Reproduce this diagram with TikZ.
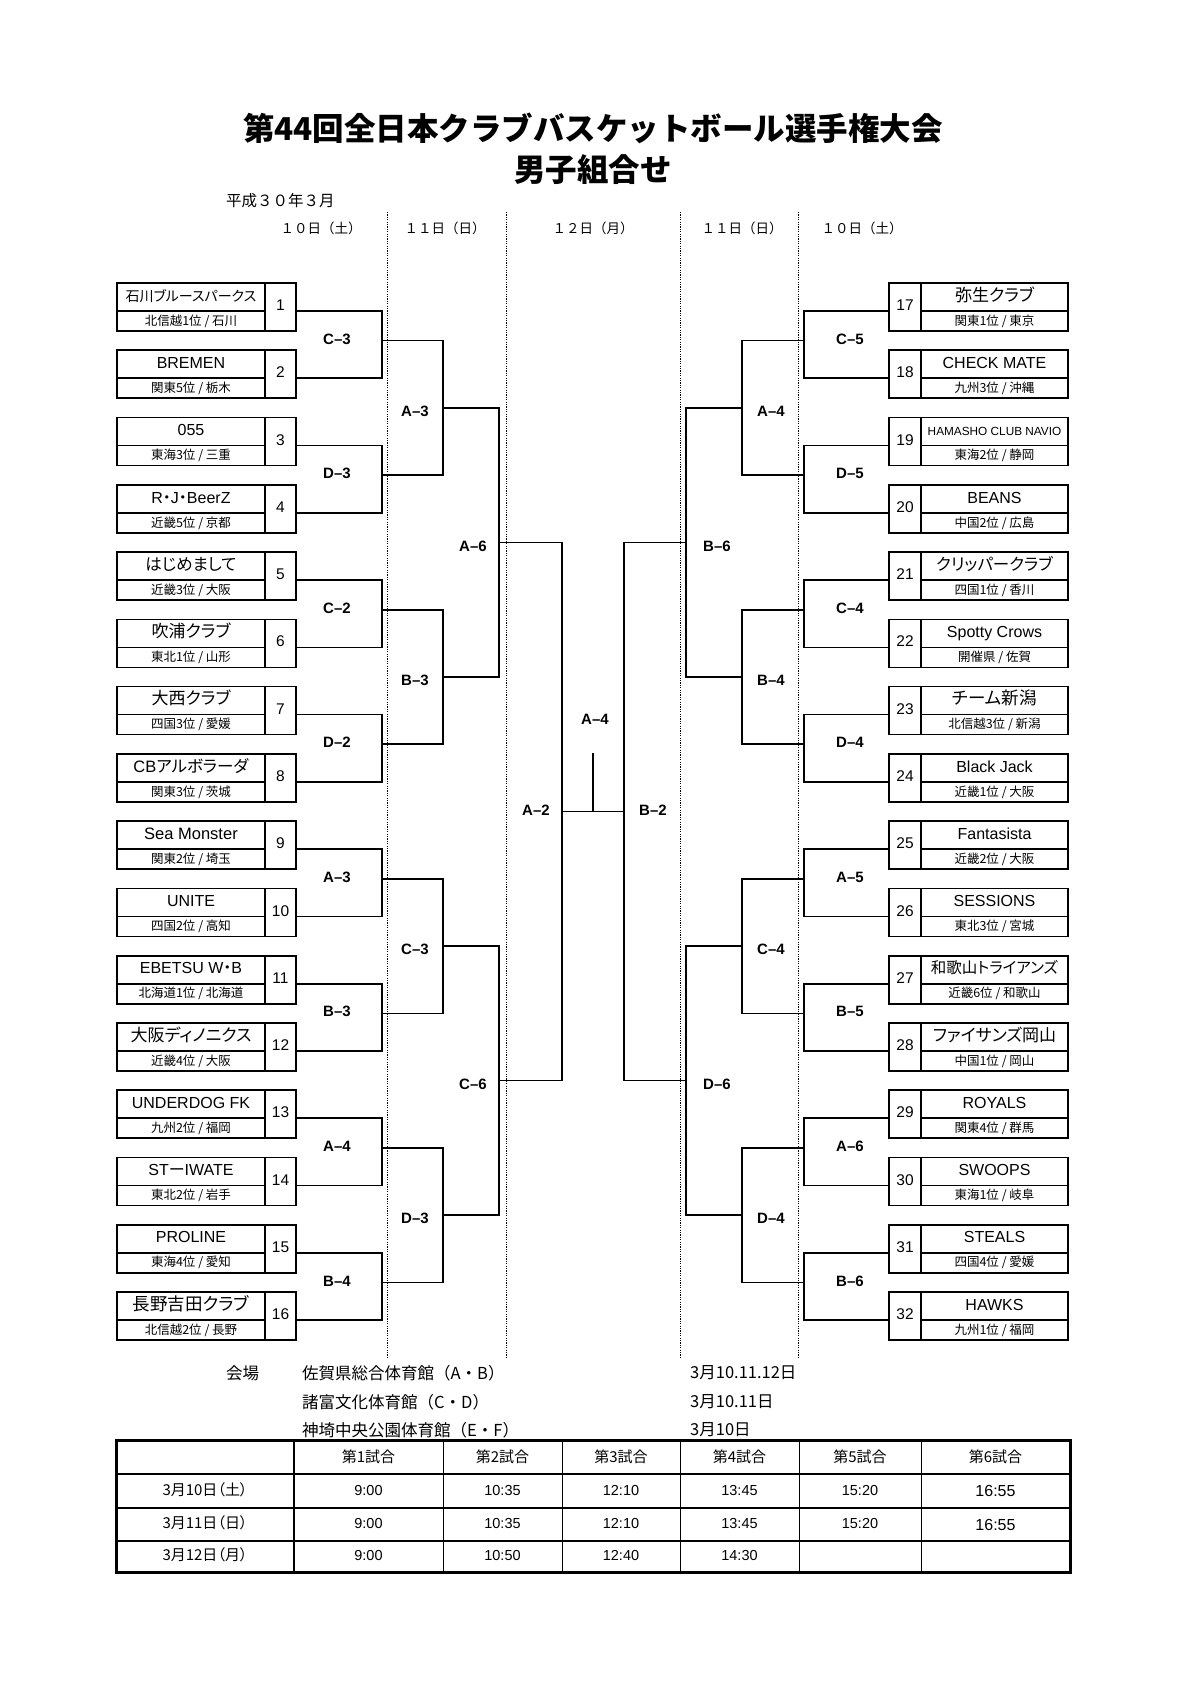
\documentclass[tikz,border=0pt]{standalone}
\usepackage{fontspec}
\setmainfont{Liberation Sans}
\newfontfamily\jp[RawFeature=+palt]{Noto Sans CJK JP}
\newfontfamily\jpf{Noto Sans CJK JP}
\newcommand\fs[1]{\fontsize{#1}{#1}\selectfont}
\tikzset{
  x=1pt, y=-1pt,
  bline/.style={line width=1.6pt, line join=miter},
  boxframe/.style={draw, line width=1.6pt, minimum width=179pt, minimum height=48pt, anchor=north west, inner sep=0pt, outer sep=0pt},
  boxline/.style={line width=1.6pt},
  dotline/.style={line width=0.9pt, dash pattern=on 1.2pt off 1.2pt},
  mlabel/.style={font=\fs{15}\bfseries, anchor=west, inner sep=0pt, text height=0.72em, text depth=0pt},
  numtxt/.style={font=\fs{15.5}, inner sep=0pt, text height=0.72em, text depth=0pt},
  subtxt/.style={font=\jp\fs{12.5}, inner sep=0pt, text height=0.74em, text depth=0pt},
  nametxt/.style={inner sep=0pt, text height=0.74em, text depth=0pt},
  hdr/.style={font=\jpf\fs{13.5}, inner sep=0pt},
  tcell/.style={font=\jp\fs{15}, inner sep=0pt, text height=0.74em, text depth=0pt},
  ttime/.style={font=\fs{14.5}, inner sep=0pt, text height=0.72em, text depth=0pt},
  venue/.style={font=\jpf\fs{16.5}, inner sep=0pt, anchor=west},
  venuedate/.style={font=\jp\fs{16.5}, inner sep=0pt, anchor=west},
}
% #1 index, #2 number, #3 font, #4 name, #5 sub
\newcommand\teamL[5]{%
  \pgfmathsetmacro\tT{283+67.27*#1}%
  \node[boxframe] (boxL#2) at (117,\tT) {};
  \draw[boxline] (265,\tT) -- (265,{\tT+48});
  \draw[boxline] (117,{\tT+28}) -- (265,{\tT+28});
  \node[nametxt, font=#3] (nameL#2) at (191,{\tT+14.5}) {#4};
  \node[subtxt] (subL#2) at (191,{\tT+38.5}) {#5};
  \node[numtxt] (numL#2) at (280.5,{\tT+24}) {#2};
  \coordinate (c#2) at (296,{\tT+28});
}
\newcommand\teamR[5]{%
  \pgfmathsetmacro\tT{283+67.27*#1}%
  \node[boxframe] (boxR#2) at (889,\tT) {};
  \draw[boxline] (921,\tT) -- (921,{\tT+48});
  \draw[boxline] (921,{\tT+28}) -- (1068,{\tT+28});
  \node[nametxt, font=#3] (nameR#2) at (994.5,{\tT+14.5}) {#4};
  \node[subtxt] (subR#2) at (994.5,{\tT+38.5}) {#5};
  \node[numtxt] (numR#2) at (905,{\tT+24}) {#2};
  \coordinate (c#2) at (889,{\tT+28});
}
\begin{document}
\begin{tikzpicture}
\useasboundingbox[fill=white] (0,0) rectangle (1190,1684);

% title
\node[font=\jpf\bfseries\fs{31.5}, inner sep=0pt] (title1) at (593,128) {第44回全日本クラブバスケットボール選手権大会};
\node[font=\jpf\bfseries\fs{31.5}, inner sep=0pt] (title2) at (593,170) {男子組合せ};
\node[font=\jpf\fs{15.5}, inner sep=0pt, anchor=west] (year) at (226,201) {平成３０年３月};

% day headers
\node[hdr] (h1) at (321,228) {１０日（土）};
\node[hdr] (h2) at (445,228) {１１日（日）};
\node[hdr] (h3) at (593,228) {１２日（月）};
\node[hdr] (h4) at (742,228) {１１日（日）};
\node[hdr] (h5) at (862,228) {１０日（土）};

% dotted day separators
\foreach \dx [count=\di] in {387,506,680,798} {
  \coordinate (dt\di) at (\dx,212);
  \coordinate (db\di) at (\dx,1357);
  \draw[dotline] (dt\di) -- (db\di);
}

% teams left
\teamL{0}{1}{\jp\fs{14}}{石川ブルースパークス}{北信越1位 / 石川}
\teamL{1}{2}{\fs{16}}{BREMEN}{関東5位 / 栃木}
\teamL{2}{3}{\fs{16}}{055}{東海3位 / 三重}
\teamL{3}{4}{\fs{16}}{R{\jp ・}J{\jp ・}BeerZ}{近畿5位 / 京都}
\teamL{4}{5}{\jp\fs{16.5}}{はじめまして}{近畿3位 / 大阪}
\teamL{5}{6}{\jp\fs{17}}{吹浦クラブ}{東北1位 / 山形}
\teamL{6}{7}{\jp\fs{17}}{大西クラブ}{四国3位 / 愛媛}
\teamL{7}{8}{\fs{16.5}}{CB{\jp アルボラーダ}}{関東3位 / 茨城}
\teamL{8}{9}{\fs{16.5}}{Sea Monster}{関東2位 / 埼玉}
\teamL{9}{10}{\fs{16}}{UNITE}{四国2位 / 高知}
\teamL{10}{11}{\fs{16}}{EBETSU W{\jp ・}B}{北海道1位 / 北海道}
\teamL{11}{12}{\jp\fs{17}}{大阪ディノニクス}{近畿4位 / 大阪}
\teamL{12}{13}{\fs{16}}{UNDERDOG FK}{九州2位 / 福岡}
\teamL{13}{14}{\fs{16}}{ST{\jp ー}IWATE}{東北2位 / 岩手}
\teamL{14}{15}{\fs{16}}{PROLINE}{東海4位 / 愛知}
\teamL{15}{16}{\jp\fs{17.5}}{長野吉田クラブ}{北信越2位 / 長野}

% teams right
\teamR{0}{17}{\jp\fs{17}}{弥生クラブ}{関東1位 / 東京}
\teamR{1}{18}{\fs{16}}{CHECK MATE}{九州3位 / 沖縄}
\teamR{2}{19}{\fs{11.8}}{HAMASHO CLUB NAVIO}{東海2位 / 静岡}
\teamR{3}{20}{\fs{16}}{BEANS}{中国2位 / 広島}
\teamR{4}{21}{\jp\fs{16.5}}{クリッパークラブ}{四国1位 / 香川}
\teamR{5}{22}{\fs{16}}{Spotty Crows}{開催県 / 佐賀}
\teamR{6}{23}{\jp\fs{17.5}}{チーム新潟}{北信越3位 / 新潟}
\teamR{7}{24}{\fs{16}}{Black Jack}{近畿1位 / 大阪}
\teamR{8}{25}{\fs{16}}{Fantasista}{近畿2位 / 大阪}
\teamR{9}{26}{\fs{16}}{SESSIONS}{東北3位 / 宮城}
\teamR{10}{27}{\jp\fs{15.5}}{和歌山トライアンズ}{近畿6位 / 和歌山}
\teamR{11}{28}{\jp\fs{17}}{ファイサンズ岡山}{中国1位 / 岡山}
\teamR{12}{29}{\fs{16}}{ROYALS}{関東4位 / 群馬}
\teamR{13}{30}{\fs{16}}{SWOOPS}{東海1位 / 岐阜}
\teamR{14}{31}{\fs{16}}{STEALS}{四国4位 / 愛媛}
\teamR{15}{32}{\fs{16}}{HAWKS}{九州1位 / 福岡}

% ---------- bracket ----------
\foreach \p [evaluate=\p as \a using int(2*\p+1), evaluate=\p as \b using int(2*\p+2), evaluate=\p as \h using 340.635+134.54*\p] in {0,...,7} {
  \coordinate (hL\p) at (382,\h);
  \draw[bline] (c\a) -- (c\a -| hL\p) -- (c\b -| hL\p) -- (c\b);
}
\foreach \p [evaluate=\p as \a using int(2*\p+17), evaluate=\p as \b using int(2*\p+18), evaluate=\p as \h using 340.635+134.54*\p] in {0,...,7} {
  \coordinate (hR\p) at (804,\h);
  \draw[bline] (c\a) -- (c\a -| hR\p) -- (c\b -| hR\p) -- (c\b);
}
\foreach \q [evaluate=\q as \a using int(2*\q), evaluate=\q as \b using int(2*\q+1), evaluate=\q as \g using 407.905+269.08*\q] in {0,...,3} {
  \coordinate (gL\q) at (443,\g);
  \coordinate (gR\q) at (742,\g);
  \draw[bline] (hL\a) -- (hL\a -| gL\q) -- (hL\b -| gL\q) -- (hL\b);
  \draw[bline] (hR\a) -- (hR\a -| gR\q) -- (hR\b -| gR\q) -- (hR\b);
}
\foreach \o [evaluate=\o as \a using int(2*\o), evaluate=\o as \b using int(2*\o+1), evaluate=\o as \f using 542.445+538.16*\o] in {0,1} {
  \coordinate (fL\o) at (499,\f);
  \coordinate (fR\o) at (686,\f);
  \draw[bline] (gL\a) -- (gL\a -| fL\o) -- (gL\b -| fL\o) -- (gL\b);
  \draw[bline] (gR\a) -- (gR\a -| fR\o) -- (gR\b -| fR\o) -- (gR\b);
}
\coordinate (eL) at (562,811.525);
\coordinate (eR) at (624,811.525);
\draw[bline] (fL0) -- (fL0 -| eL) -- (fL1 -| eL) -- (fL1);
\draw[bline] (fR0) -- (fR0 -| eR) -- (fR1 -| eR) -- (fR1);
\draw[bline] (eL) -- (eR);
\coordinate (stem) at (593,753);
\draw[bline] (stem) -- (stem |- eL);

% ---------- match labels ----------
\foreach \t [count=\i from 0, evaluate=\i as \h using 340.635+134.54*\i] in {C–3,D–3,C–2,D–2,A–3,B–3,A–4,B–4}
  \node[mlabel] (l1L\i) at (323,\h) {\t};
\foreach \t [count=\i from 0, evaluate=\i as \h using 340.635+134.54*\i] in {C–5,D–5,C–4,D–4,A–5,B–5,A–6,B–6}
  \node[mlabel] (l1R\i) at (836,\h) {\t};
\foreach \t [count=\i from 0, evaluate=\i as \g using 412.905+269.08*\i] in {A–3,B–3,C–3,D–3}
  \node[mlabel] (l2L\i) at (401,\g) {\t};
\foreach \t [count=\i from 0, evaluate=\i as \g using 412.905+269.08*\i] in {A–4,B–4,C–4,D–4}
  \node[mlabel] (l2R\i) at (757,\g) {\t};
\node[mlabel] (l3L0) at (459,547.4) {A–6};
\node[mlabel] (l3L1) at (459,1085.6) {C–6};
\node[mlabel] (l3R0) at (703,547.4) {B–6};
\node[mlabel] (l3R1) at (703,1085.6) {D–6};
\node[mlabel] (lA4) at (581,721) {A–4};
\node[mlabel] (lA2) at (522,811.5) {A–2};
\node[mlabel] (lB2) at (639,811.5) {B–2};

% ---------- venues ----------
\node[venue] (v0) at (226,1373) {会場};
\node[venue] (v1) at (302,1373) {佐賀県総合体育館（A・B）};
\node[venue] (v2) at (302,1402) {諸富文化体育館（C・D）};
\node[venue] (v3) at (302,1430) {神埼中央公園体育館（E・F）};
\node[venuedate] (w1) at (690,1373) {3月10.11.12日};
\node[venuedate] (w2) at (690,1402) {3月10.11日};
\node[venuedate] (w3) at (690,1430) {3月10日};

% ---------- table ----------
\coordinate (tNW) at (116,1440);
\coordinate (tSE) at (1070,1572);
\foreach \yy in {1474,1508,1541}
  \draw[line width=2pt] (116,\yy) -- (1070,\yy);
\foreach \xx in {443,562,680,799,921}
  \draw[line width=1pt] (\xx,1440) -- (\xx,1572);
\draw[line width=2.5pt] (294,1440) -- (294,1572);
\draw[line width=3pt] (tNW) rectangle (tSE);

\foreach \t [count=\i, evaluate=\i as \cx using {\i==1 ? 368.5 : (\i==2 ? 502.5 : (\i==3 ? 621 : (\i==4 ? 739.5 : (\i==5 ? 860 : 995.5))))}] in {第1試合,第2試合,第3試合,第4試合,第5試合,第6試合}
  \node[tcell] (th\i) at (\cx,1459) {\t};
\node[tcell] (d1) at (205,1491.5) {3月10日（土）};
\node[tcell] (d2) at (205,1525) {3月11日（日）};
\node[tcell] (d3) at (205,1557) {3月12日（月）};
\foreach \t [count=\i, evaluate=\i as \cx using {\i==1 ? 368.5 : (\i==2 ? 502.5 : (\i==3 ? 621 : (\i==4 ? 739.5 : 860)))}] in {9:00,10:35,12:10,13:45,15:20} {
  \node[ttime] (ta\i) at (\cx,1491.5) {\t};
  \node[ttime] (tb\i) at (\cx,1525) {\t};
}
\node[ttime, font=\fs{16}] (ta6) at (995.5,1493) {16:55};
\node[ttime, font=\fs{16}] (tb6) at (995.5,1527) {16:55};
\foreach \t [count=\i, evaluate=\i as \cx using {\i==1 ? 368.5 : (\i==2 ? 502.5 : (\i==3 ? 621 : 739.5))}] in {9:00,10:50,12:40,14:30}
  \node[ttime] (tc\i) at (\cx,1557) {\t};
\end{tikzpicture}
\end{document}
